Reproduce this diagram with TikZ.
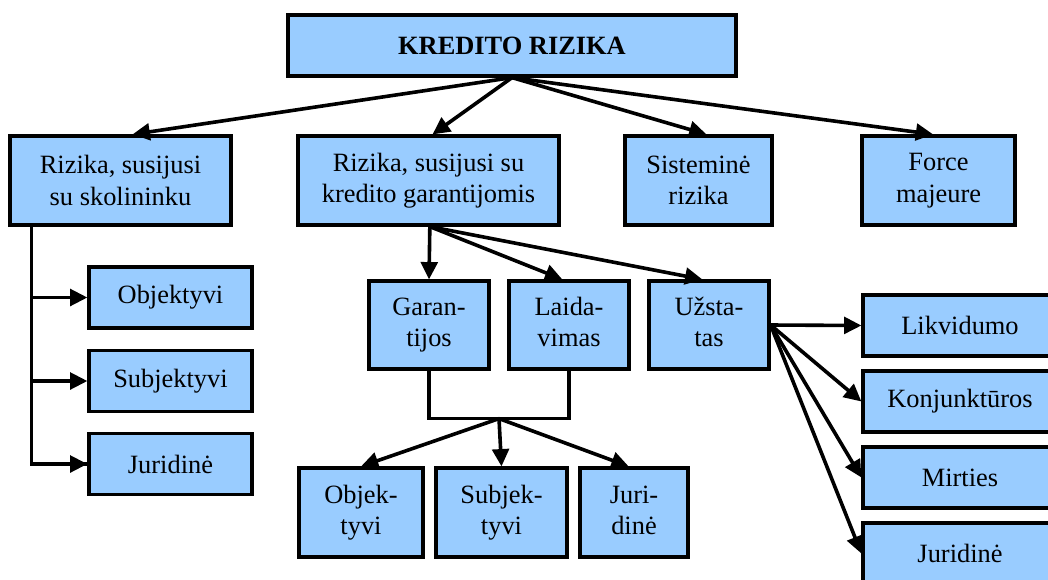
\documentclass[tikz,border=0pt]{standalone}
\usepackage{fontspec}
\setmainfont{Liberation Serif}
\usetikzlibrary{arrows.meta,calc}
\definecolor{boxblue}{HTML}{99CCFF}
\tikzset{
  box/.style={draw=black, line width=2.4pt, fill=boxblue, align=center, inner sep=0pt,
    font=\fontsize{19.8pt}{23.5pt}\selectfont},
  conn/.style={line width=2.7pt, draw=black},
  arr/.style={conn, -{Triangle[length=13pt,width=12.5pt]}}
}
\begin{document}
\begin{tikzpicture}[x=0.75pt,y=-0.75pt]
\useasboundingbox (0,0) rectangle (1048,579);
\clip (0,0) rectangle (1048,579);
% top
\node[box, minimum width=336pt, minimum height=45.75pt, font=\fontsize{19.8pt}{22.5pt}\selectfont\bfseries] (kr) at (512,45.5) {KREDITO RIZIKA};
% level 2
\node[box, minimum width=165.75pt, minimum height=66.75pt] (L1) at (120.5,180.5) {Rizika, susijusi\\su skolininku};
\node[box, minimum width=195.75pt, minimum height=66.75pt] (M) at (428.5,180.5) {Rizika, susijusi su\\kredito garantijomis};
\node[box, minimum width=110.25pt, minimum height=66.75pt] (S) at (698.5,180.5) {Sisteminė\\rizika};
\node[box, minimum width=114.75pt, minimum height=66.75pt] (F) at (938.5,180.5) {Force\\majeure};
% left column
\node[box, minimum width=122.25pt, minimum height=45.75pt] (O1) at (170.5,297.5) {Objektyvi};
\node[box, minimum width=122.25pt, minimum height=45.75pt] (S1) at (170.5,381) {Subjektyvi};
\node[box, minimum width=122.25pt, minimum height=45.75pt] (J1) at (170.5,464) {Juridinė};
% middle
\node[box, minimum width=90pt, minimum height=66pt] (G) at (429,325) {\strut Garan-\\\strut tijos};
\node[box, minimum width=90pt, minimum height=66pt] (Lv) at (569,325) {\strut Laida-\\\strut vimas};
\node[box, minimum width=90pt, minimum height=66pt] (U) at (709,325) {\strut Užsta-\\\strut tas};
% bottom middle
\node[box, minimum width=93pt, minimum height=66.75pt] (O2) at (361,512.5) {\strut Objek-\\\strut tyvi};
\node[box, minimum width=98.25pt, minimum height=66.75pt] (S2) at (501.5,512.5) {\strut Subjek-\\\strut tyvi};
\node[box, minimum width=81pt, minimum height=66.75pt] (J2) at (634,512.5) {\strut Juri-\\\strut dinė};
% right column
\node[box, minimum width=145.5pt, minimum height=45.75pt] (Lk) at (960,325.5) {Likvidumo};
\node[box, minimum width=145.5pt, minimum height=45.75pt] (Kj) at (960,401.5) {Konjunktūros};
\node[box, minimum width=145.5pt, minimum height=45.75pt] (Mr) at (960,477.5) {Mirties};
\node[box, minimum width=145.5pt, minimum height=45.75pt] (Jr) at (960,553.5) {Juridinė};
% top arrows
\draw[arr] (kr.south) -- ([xshift=9pt]L1.north);
\draw[arr] (kr.south) -- ([xshift=3pt]M.north);
\draw[arr] (kr.south) -- ([xshift=6pt]S.north);
\draw[arr] (kr.south) -- ([xshift=-4pt]F.north);
% left trunk
\coordinate (t) at ([xshift=17.25pt]L1.south west);
\draw[conn] (t) |- (J1.west);
\draw[arr] (t |- J1.west) -- (J1.west);
\draw[arr] (t |- O1.west) -- (O1.west);
\draw[arr] (t |- S1.west) -- (S1.west);
% middle arrows
\draw[arr] ([xshift=1pt]M.south) -- (G.north);
\draw[arr] ([xshift=1pt]M.south) -- ([xshift=-5pt]Lv.north);
\draw[arr] ([xshift=1pt]M.south) -- ([xshift=-5pt]U.north);
% bracket
\coordinate (b) at ($(G.south)!0.5!(Lv.south)+(0,48)$);
\draw[conn] (G.south) -- (G.south |- b) -- (Lv.south |- b) -- (Lv.south);
\draw[arr] (b) -- (O2.north);
\draw[arr] (b) -- (S2.north);
\draw[arr] (b) -- ([xshift=-4pt]J2.north);
% right arrows
\draw[arr] (U.east) -- (Lk.west);
\draw[arr] (U.east) -- (Kj.west);
\draw[arr] (U.east) -- (Mr.west);
\draw[arr] (U.east) -- (Jr.west);
\end{tikzpicture}
\end{document}
